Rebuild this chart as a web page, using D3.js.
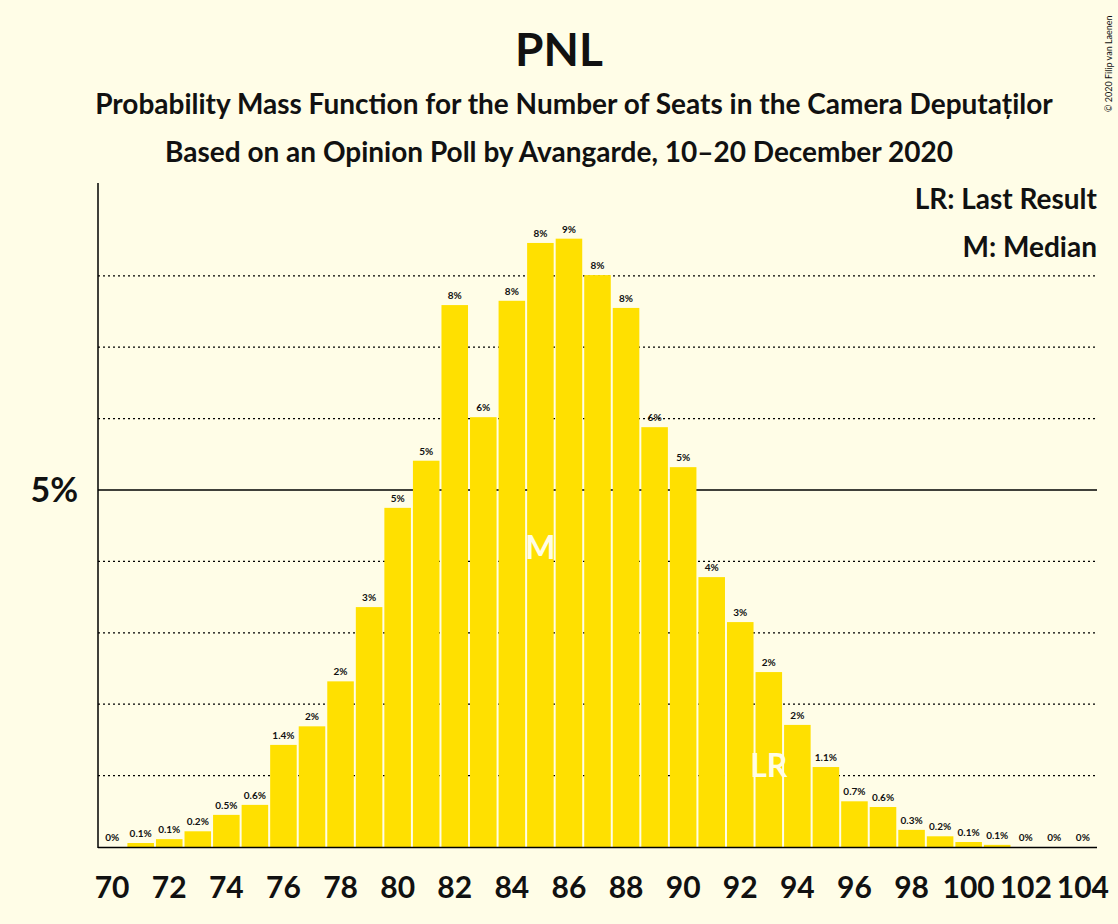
<!DOCTYPE html>
<html><head><meta charset="utf-8">
<script src="https://cdn.jsdelivr.net/npm/d3@7"></script>
<style>body{margin:0;background:#fffde7}text{font-family:Lato,"Open Sans",sans-serif;fill:#111}</style>
</head><body><svg id="c" width="1118" height="924"></svg>
<script>
var seats = d3.range(70, 105);
var probs = [0,0.056,0.11,0.22,0.45,0.59,1.43,1.69,2.32,3.36,4.75,5.41,7.59,6.02,7.65,8.46,8.52,8.01,7.55,5.88,5.32,3.78,3.15,2.45,1.71,1.12,0.64,0.56,0.24,0.15,0.07,0.03,0,0,0];
var labels = ["0%","0.1%","0.1%","0.2%","0.5%","0.6%","1.4%","2%","2%","3%","5%","5%","8%","6%","8%","8%","9%","8%","8%","6%","5%","4%","3%","2%","2%","1.1%","0.7%","0.6%","0.3%","0.2%","0.1%","0.1%","0%","0%","0%"];
var tickSeats = d3.range(70, 105, 2);
var median = 85, lastResult = 93;

var svg = d3.select("#c");
svg.append("rect").attr("width",1118).attr("height",924).attr("fill","#fffde7");
var x = d3.scaleBand().domain(seats).range([98,1097]).paddingInner(0.07).paddingOuter(0.03);
var y = d3.scaleLinear().domain([0,5]).range([847,490]);

[1,2,3,4,6,7,8].forEach(function(g){
  svg.append("line").attr("x1",98).attr("x2",1097).attr("y1",y(g)).attr("y2",y(g))
    .attr("stroke","#000").attr("stroke-dasharray","2,3").attr("stroke-width",1.2);
});
svg.append("line").attr("x1",98).attr("x2",1097).attr("y1",y(5)).attr("y2",y(5)).attr("stroke","#000").attr("stroke-width",1.5);

svg.selectAll("rect.b").data(seats).enter().append("rect").attr("class","b")
  .attr("x",function(d){return x(d);}).attr("width",x.bandwidth())
  .attr("y",function(d,i){return y(probs[i]);})
  .attr("height",function(d,i){return y(0)-y(probs[i]);})
  .attr("fill","#ffe000");

svg.selectAll("text.v").data(seats).enter().append("text")
  .attr("x",function(d){return x(d)+x.bandwidth()/2;})
  .attr("y",function(d,i){return y(probs[i])-6;})
  .attr("text-anchor","middle").attr("font-size",10).attr("font-weight","bold")
  .text(function(d,i){return labels[i];});

var ax = svg.append("g");
ax.append("line").attr("x1",98).attr("x2",98).attr("y1",183).attr("y2",848).attr("stroke","#000").attr("stroke-width",1.5);
ax.append("line").attr("x1",98).attr("x2",1097).attr("y1",847.5).attr("y2",847.5).attr("stroke","#000").attr("stroke-width",1.5);
svg.selectAll("text.t").data(tickSeats).enter().append("text")
  .attr("x",function(d){return x(d)+x.bandwidth()/2;}).attr("y",898)
  .attr("text-anchor","middle").attr("font-size",30).attr("font-weight","bold").text(function(d){return d;});
svg.append("text").attr("x",78).attr("y",y(5)+12).attr("text-anchor","end").attr("font-size",34).attr("font-weight","bold").text("5%");

function mark(s, txt, v){
  svg.append("text").attr("x",x(s)+x.bandwidth()/2).attr("y",y(v)+12).attr("text-anchor","middle")
    .attr("font-size",32).attr("font-weight","bold").style("fill","#fffde7").text(txt);
}
mark(median,"M",4.2);
mark(lastResult,"LR",1.15);

svg.append("text").attr("x",559).attr("y",66).attr("text-anchor","middle").attr("font-size",46).attr("font-weight","bold").text("PNL");
svg.append("text").attr("x",574).attr("y",114).attr("text-anchor","middle").attr("font-size",28).attr("font-weight","bold").text("Probability Mass Function for the Number of Seats in the Camera Deputaților");
svg.append("text").attr("x",559).attr("y",162).attr("text-anchor","middle").attr("font-size",28).attr("font-weight","bold").text("Based on an Opinion Poll by Avangarde, 10–20 December 2020");
svg.append("text").attr("x",1097).attr("y",209).attr("text-anchor","end").attr("font-size",28).attr("font-weight","bold").text("LR: Last Result");
svg.append("text").attr("x",1097).attr("y",257).attr("text-anchor","end").attr("font-size",28).attr("font-weight","bold").text("M: Median");
svg.append("text").attr("transform","translate(1112,112) rotate(-90)").attr("font-size",9).text("© 2020 Filip van Laenen");
</script></body></html>
